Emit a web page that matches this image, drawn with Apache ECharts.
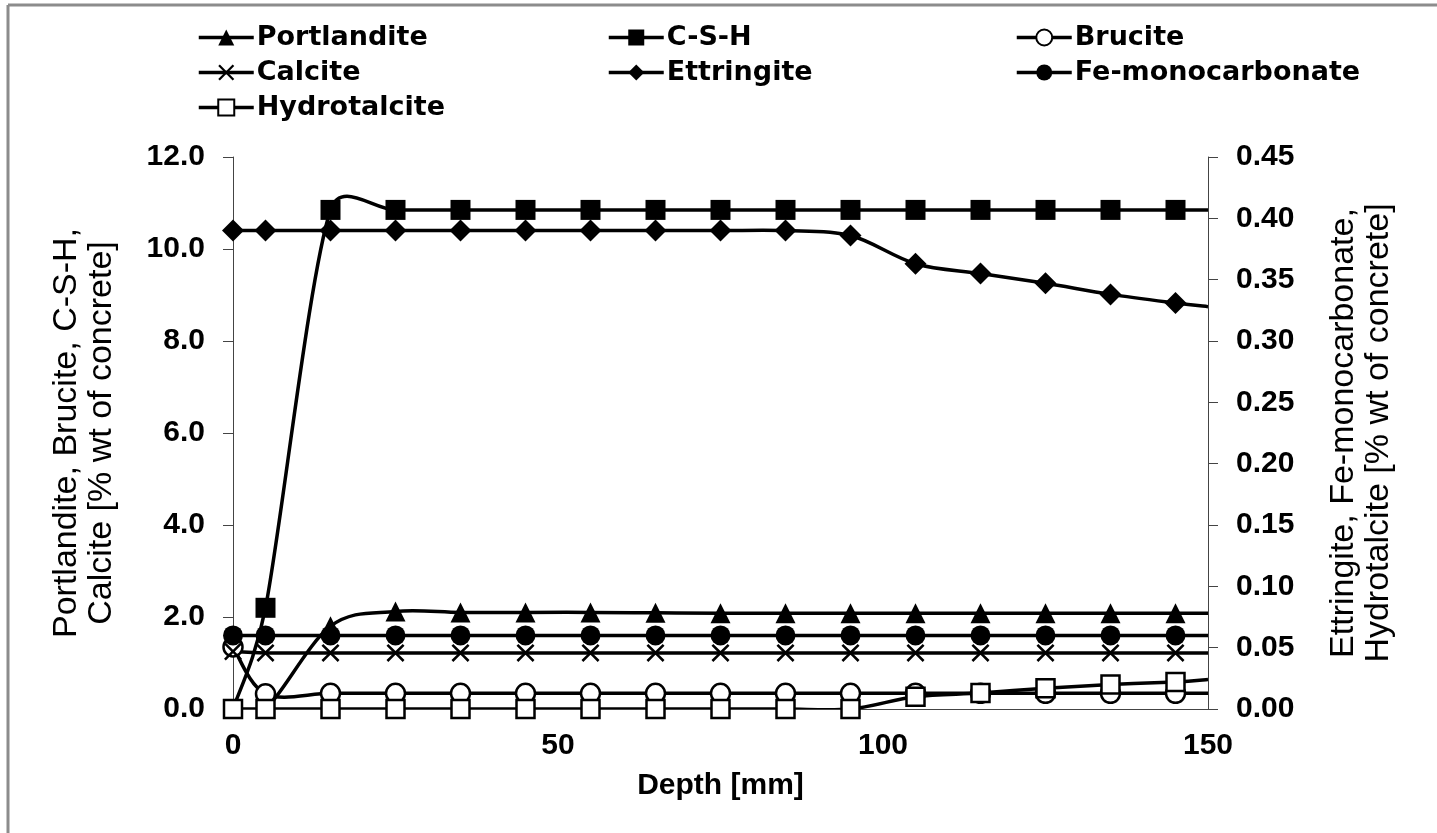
<!DOCTYPE html>
<html>
<head>
<meta charset="utf-8">
<script src="https://cdn.jsdelivr.net/npm/echarts@6/dist/echarts.min.js"></script>
<style>
  html, body { margin: 0; padding: 0; background: #fff; }
  #chart { width: 1437px; height: 833px; }
</style>
</head>
<body>
<div id="chart"></div>
<script>
// depth [mm]
const depth = [0, 5, 15, 25, 35, 45, 55, 65, 75, 85, 95, 105, 115, 125, 135, 145, 150]

// left axis [% wt of concrete]
const portlandite = [0, 0, 1.8, 2.12, 2.1, 2.1, 2.1, 2.09, 2.08, 2.08, 2.08, 2.08, 2.08, 2.08, 2.08, 2.08, 2.08]
const csh = [0, 2.2, 10.85, 10.85, 10.85, 10.85, 10.85, 10.85, 10.85, 10.85, 10.85, 10.85, 10.85, 10.85, 10.85, 10.85, 10.85]
const brucite = [1.35, 0.33, 0.34, 0.34, 0.34, 0.34, 0.34, 0.34, 0.34, 0.34, 0.34, 0.34, 0.34, 0.34, 0.34, 0.34, 0.34]
const calcite = [1.25, 1.22, 1.22, 1.22, 1.22, 1.22, 1.22, 1.22, 1.22, 1.22, 1.22, 1.22, 1.22, 1.22, 1.22, 1.22, 1.22]

// right axis [% wt of concrete]
const ettringite = [0.39, 0.39, 0.39, 0.39, 0.39, 0.39, 0.39, 0.39, 0.39, 0.39, 0.386, 0.363, 0.355, 0.347, 0.338, 0.331, 0.328]
const feMono = [0.06, 0.06, 0.06, 0.06, 0.06, 0.06, 0.06, 0.06, 0.06, 0.06, 0.06, 0.06, 0.06, 0.06, 0.06, 0.06, 0.06]
const hydrotalcite = [0, 0, 0, 0, 0, 0, 0, 0, 0, 0, 0, 0.010, 0.013, 0.017, 0.020, 0.022, 0.024]

const leftTicks = { min: 0, max: 12, interval: 2 }
const rightTicks = { min: 0, max: 0.45, interval: 0.05 }

const FONT = 'Arial, "Liberation Sans", sans-serif'
const WIDE = '"DejaVu Sans", sans-serif'
const CROSS = 'path://M2,0 L10,8 L18,0 L20,2 L12,10 L20,18 L18,20 L10,12 L2,20 L0,18 L8,10 L0,2 Z'
const LINE_W = 3.5

// last point (150 mm) has no marker, line only
const toData = (ys) =>
  depth.map((d, i) => (d === 150 ? { value: [d, ys[i]], symbol: 'none' } : [d, ys[i]]))

// excel style smoothing: tangent along (next - prev), length capped by half the segment
const handle = (prev, next, seg) => {
  const dx = next[0] - prev[0]
  const dy = next[1] - prev[1]
  const len = Math.sqrt(dx * dx + dy * dy) || 1
  const h = Math.min(len / 6, seg * 0.5)
  return [dx / len * h, dy / len * h]
}

// smoothed curve, one bezier per segment, positions from the axes
const curveSeries = (name, ys, yIdx) => ({
  name: name + ' curve',
  type: 'custom',
  yAxisIndex: yIdx,
  data: depth.map((d, i) => [d, ys[i]]),
  clip: true,
  silent: true,
  z: 1,
  renderItem: (params, api) => {
    const i = params.dataIndex
    const n = depth.length
    if (i >= n - 1) return null
    const P = (k) => {
      const c = Math.max(0, Math.min(n - 1, k))
      return api.coord([depth[c], ys[c]])
    }
    const p0 = P(i - 1), p1 = P(i), p2 = P(i + 1), p3 = P(i + 2)
    const seg = Math.sqrt((p2[0] - p1[0]) ** 2 + (p2[1] - p1[1]) ** 2)
    const h1 = handle(p0, p2, seg)
    const h2 = handle(p1, p3, seg)
    return {
      type: 'bezierCurve',
      shape: {
        x1: p1[0], y1: p1[1], x2: p2[0], y2: p2[1],
        cpx1: p1[0] + h1[0], cpy1: p1[1] + h1[1],
        cpx2: p2[0] - h2[0], cpy2: p2[1] - h2[1]
      },
      style: { stroke: '#000', lineWidth: LINE_W, fill: null }
    }
  }
})

const markSeries = (name, ys, yIdx, symbol, size, open) => ({
  name: name,
  type: 'line',
  yAxisIndex: yIdx,
  data: toData(ys),
  symbol: symbol,
  symbolSize: size,
  showAllSymbol: true,
  lineStyle: { color: '#000', width: LINE_W, opacity: 0 },
  itemStyle: open
    ? { color: '#fff', borderColor: '#000', borderWidth: 2.5 }
    : { color: '#000', borderWidth: 0 },
  emphasis: { disabled: true },
  z: 3
})

const legendAt = (name, left, top) => ({
  data: [{ name: name, lineStyle: { color: '#000', width: LINE_W, opacity: 1 } }],
  left: left,
  top: top,
  itemWidth: 55,
  itemHeight: 20,
  itemGap: 0,
  padding: 0,
  selectedMode: false,
  textStyle: { fontFamily: WIDE, fontWeight: 'bold', fontSize: 27, color: '#000', padding: [0, 0, 0, -2] }
})

var chartDom = document.getElementById('chart')
var myChart = echarts.init(chartDom, null, { renderer: 'canvas' })
var option

option = {
  animation: false,
  backgroundColor: '#fff',
  textStyle: { fontFamily: FONT },
  legend: [
    legendAt('Portlandite', 197, 24),
    legendAt('Calcite', 197, 59),
    legendAt('Hydrotalcite', 197, 94),
    legendAt('C-S-H', 607, 24),
    legendAt('Ettringite', 607, 59),
    legendAt('Brucite', 1015, 24),
    legendAt('Fe-monocarbonate', 1015, 59)
  ],
  grid: { left: 233, right: 229, top: 157, bottom: 124 },
  xAxis: {
    type: 'value',
    min: 0,
    max: 150,
    interval: 50,
    name: 'Depth [mm]',
    nameLocation: 'middle',
    nameGap: 62,
    nameTextStyle: { fontFamily: FONT, fontWeight: 'bold', fontSize: 30, color: '#000' },
    axisLine: { onZero: false, lineStyle: { color: '#444', width: 1 } },
    axisTick: { show: false },
    splitLine: { show: false },
    axisLabel: { fontFamily: FONT, fontWeight: 'bold', fontSize: 30, color: '#000', margin: 22 }
  },
  yAxis: [
    {
      type: 'value',
      position: 'left',
      min: leftTicks.min,
      max: leftTicks.max,
      interval: leftTicks.interval,
      name: 'Portlandite, Brucite, C-S-H,\nCalcite [% wt of concrete]',
      nameLocation: 'middle',
      nameRotate: 90,
      nameGap: 114,
      nameTextStyle: { fontFamily: FONT, fontSize: 34, color: '#000', lineHeight: 35 },
      axisLine: { show: true, lineStyle: { color: '#444', width: 1 } },
      axisTick: { show: true, length: 10, lineStyle: { color: '#444' } },
      splitLine: { show: false },
      axisLabel: {
        fontFamily: FONT, fontWeight: 'bold', fontSize: 30, color: '#000', margin: 28,
        formatter: (v) => v.toFixed(1)
      }
    },
    {
      type: 'value',
      position: 'right',
      min: rightTicks.min,
      max: rightTicks.max,
      interval: rightTicks.interval,
      name: 'Ettringite, Fe-monocarbonate,\nHydrotalcite [% wt of concrete]',
      nameLocation: 'middle',
      nameRotate: 90,
      nameGap: 118,
      nameTextStyle: { fontFamily: FONT, fontSize: 34, color: '#000', lineHeight: 35 },
      axisLine: { show: true, lineStyle: { color: '#444', width: 1 } },
      axisTick: { show: true, length: 10, lineStyle: { color: '#444' } },
      splitLine: { show: false },
      axisLabel: {
        fontFamily: FONT, fontWeight: 'bold', fontSize: 30, color: '#000', margin: 28,
        formatter: (v) => v.toFixed(2)
      }
    }
  ],
  graphic: [
    { type: 'line', shape: { x1: 8, y1: 5, x2: 8, y2: 833 }, style: { stroke: '#8c8c8c', lineWidth: 3 } },
    { type: 'line', shape: { x1: 8, y1: 5, x2: 1437, y2: 5 }, style: { stroke: '#8c8c8c', lineWidth: 3 } }
  ],
  series: [
    curveSeries('Portlandite', portlandite, 0),
    curveSeries('C-S-H', csh, 0),
    curveSeries('Brucite', brucite, 0),
    curveSeries('Calcite', calcite, 0),
    curveSeries('Ettringite', ettringite, 1),
    curveSeries('Fe-monocarbonate', feMono, 1),
    curveSeries('Hydrotalcite', hydrotalcite, 1),
    markSeries('Portlandite', portlandite, 0, 'triangle', 20, false),
    markSeries('C-S-H', csh, 0, 'rect', 20, false),
    markSeries('Brucite', brucite, 0, 'circle', 19, true),
    markSeries('Calcite', calcite, 0, CROSS, 18, false),
    markSeries('Ettringite', ettringite, 1, 'diamond', 22, false),
    markSeries('Fe-monocarbonate', feMono, 1, 'circle', 20, false),
    markSeries('Hydrotalcite', hydrotalcite, 1, 'rect', 18, true)
  ]
}

option && myChart.setOption(option)
</script>
</body>
</html>
